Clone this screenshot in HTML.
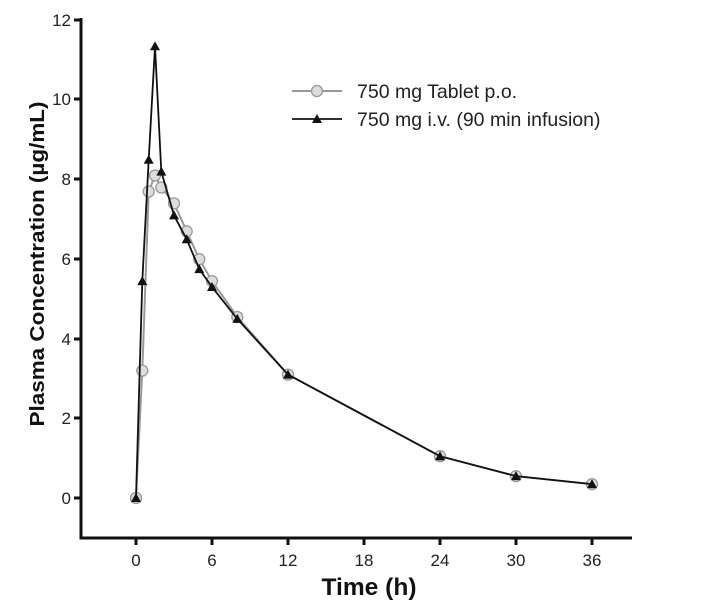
<!DOCTYPE html>
<html><head><meta charset="utf-8"><style>html,body{margin:0;padding:0;background:#fff}</style></head>
<body>
<svg width="712" height="606" viewBox="0 0 712 606" xmlns="http://www.w3.org/2000/svg" font-family="Liberation Sans, Arial, sans-serif">
<g stroke="#111" stroke-width="3" fill="none">
<polyline points="81,18 81,538 632,538"/>
</g>
<g stroke="#111" stroke-width="3">
<line x1="74" y1="20" x2="81" y2="20"/>
<line x1="74" y1="99" x2="81" y2="99"/>
<line x1="74" y1="179" x2="81" y2="179"/>
<line x1="74" y1="259" x2="81" y2="259"/>
<line x1="74" y1="339" x2="81" y2="339"/>
<line x1="74" y1="418" x2="81" y2="418"/>
<line x1="74" y1="498" x2="81" y2="498"/>
<line x1="136" y1="538" x2="136" y2="545"/>
<line x1="212" y1="538" x2="212" y2="545"/>
<line x1="288" y1="538" x2="288" y2="545"/>
<line x1="364" y1="538" x2="364" y2="545"/>
<line x1="440" y1="538" x2="440" y2="545"/>
<line x1="516" y1="538" x2="516" y2="545"/>
<line x1="592" y1="538" x2="592" y2="545"/>
</g>
<g font-size="17" fill="#222" text-anchor="end">
<text x="71" y="26">12</text><text x="71" y="105">10</text><text x="71" y="185">8</text>
<text x="71" y="265">6</text><text x="71" y="345">4</text><text x="71" y="424">2</text><text x="71" y="504">0</text>
</g>
<g font-size="17" fill="#222" text-anchor="middle">
<text x="136" y="566">0</text><text x="212" y="566">6</text><text x="288" y="566">12</text>
<text x="364" y="566">18</text><text x="440" y="566">24</text><text x="516" y="566">30</text><text x="592" y="566">36</text>
</g>
<text x="369" y="595" font-size="24" font-weight="bold" text-anchor="middle" fill="#111" textLength="95" lengthAdjust="spacingAndGlyphs">Time (h)</text>
<text transform="translate(44,264) rotate(-90)" font-size="20" font-weight="bold" text-anchor="middle" fill="#111" textLength="325" lengthAdjust="spacingAndGlyphs">Plasma Concentration (µg/mL)</text>
<!-- oral -->
<polyline fill="none" stroke="#999" stroke-width="2" points="136,498 142.3,370.6 148.7,191.5 155,175.5 161.3,187.5 174,203.4 186.7,231.3 199.3,259.2 212,281.1 237.3,317 288,374.6 440,456.2 516,476.1 592,484.1"/>
<g fill="#ddd" stroke="#999" stroke-width="1.3">
<circle cx="136" cy="498" r="5.5"/><circle cx="142.3" cy="370.6" r="5.5"/><circle cx="148.7" cy="191.5" r="5.5"/>
<circle cx="155" cy="175.5" r="5.5"/><circle cx="161.3" cy="187.5" r="5.5"/><circle cx="174" cy="203.4" r="5.5"/>
<circle cx="186.7" cy="231.3" r="5.5"/><circle cx="199.3" cy="259.2" r="5.5"/><circle cx="212" cy="281.1" r="5.5"/>
<circle cx="237.3" cy="317" r="5.5"/><circle cx="288" cy="374.6" r="5.5"/><circle cx="440" cy="456.2" r="5.5"/>
<circle cx="516" cy="476.1" r="5.5"/><circle cx="592" cy="484.1" r="5.5"/>
</g>
<!-- iv -->
<polyline fill="none" stroke="#111" stroke-width="1.8" points="136,498 142.3,281.1 148.7,159.7 155,46.3 161.3,171.6 174,215.4 186.7,239.3 199.3,269.1 212,287 237.3,318.9 288,374.6 440,456.2 516,476.1 592,484.1"/>
<g fill="#111">
<polygon points="136,493 141,502 131,502"/>
<polygon points="142.3,276.1 147.3,285.1 137.3,285.1"/>
<polygon points="148.7,154.7 153.7,163.7 143.7,163.7"/>
<polygon points="155,41.3 160,50.3 150,50.3"/>
<polygon points="161.3,166.6 166.3,175.6 156.3,175.6"/>
<polygon points="174,210.4 179,219.4 169,219.4"/>
<polygon points="186.7,234.3 191.7,243.3 181.7,243.3"/>
<polygon points="199.3,264.1 204.3,273.1 194.3,273.1"/>
<polygon points="212,282 217,291 207,291"/>
<polygon points="237.3,313.9 242.3,322.9 232.3,322.9"/>
<polygon points="288,369.6 293,378.6 283,378.6"/>
<polygon points="440,451.2 445,460.2 435,460.2"/>
<polygon points="516,471.1 521,480.1 511,480.1"/>
<polygon points="592,479.1 597,488.1 587,488.1"/>
</g>
<!-- legend -->
<line x1="292" y1="91" x2="342" y2="91" stroke="#999" stroke-width="2"/>
<circle cx="317" cy="91" r="5.5" fill="#ddd" stroke="#999" stroke-width="1.3"/>
<line x1="292" y1="119" x2="342" y2="119" stroke="#111" stroke-width="1.8"/>
<polygon points="317,114 322,123 312,123" fill="#111"/>
<g font-size="19.5" fill="#222">
<text x="357" y="98">750 mg Tablet p.o.</text>
<text x="357" y="126">750 mg i.v. (90 min infusion)</text>
</g>
</svg>
</body></html>
